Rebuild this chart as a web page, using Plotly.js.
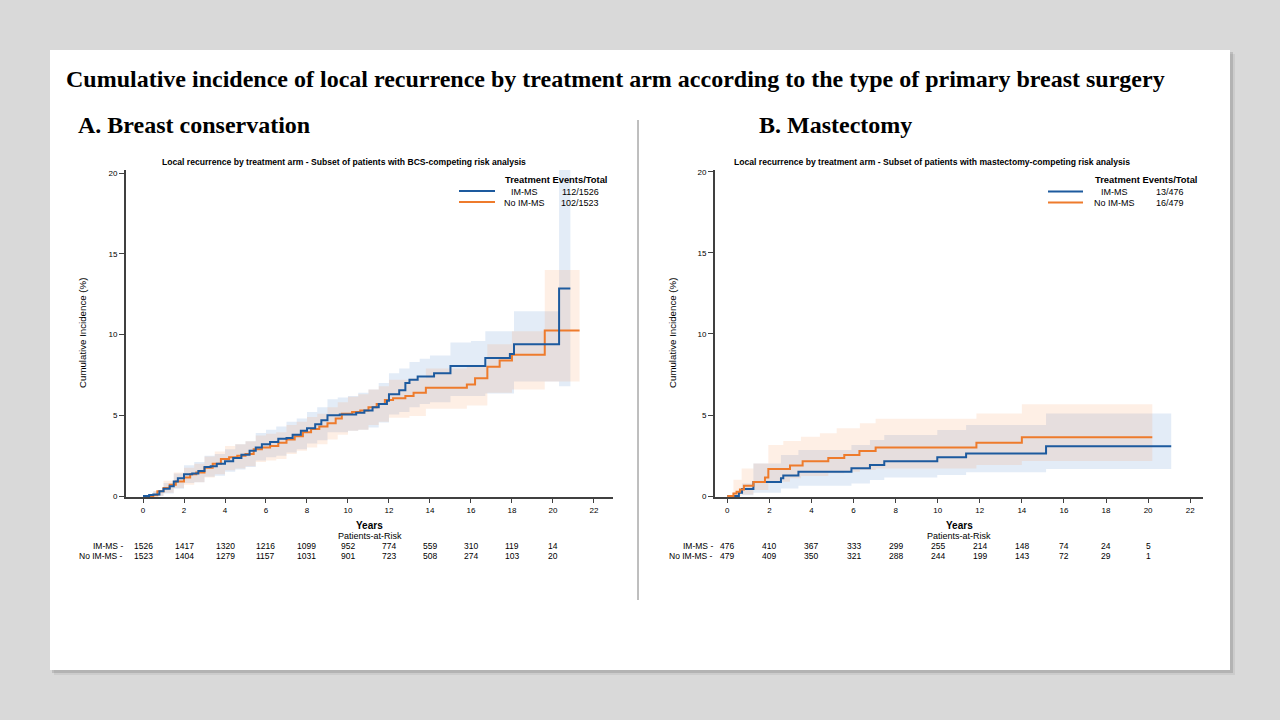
<!DOCTYPE html>
<html>
<head>
<meta charset="utf-8">
<script src="https://cdn.plot.ly/plotly-3.0.1.min.js"></script>
<style>html,body{margin:0;padding:0;background:#d9d9d9;}#chart{width:1280px;height:720px;}</style>
</head>
<body>
<div id="chart"></div>
<script>
// ---------- DATA ----------
// Panel A: Breast conservation (BCS)
const bcsIM_t = [0,0.3,0.5,0.8,1.0,1.3,1.5,1.7,2.0,2.4,2.7,3.0,3.3,3.6,4.0,4.4,4.8,5.2,5.5,5.8,6.2,6.6,7.0,7.3,7.7,8.0,8.4,8.7,9.0,9.6,10.4,10.8,11.2,11.5,11.9,12.0,12.5,12.8,13.0,13.4,14.2,15.0,16.7,17.9,18.1,20.3,20.85];
const bcsIM_v = [0,0.06,0.1,0.3,0.45,0.6,0.9,1.1,1.35,1.4,1.55,1.8,1.85,2.0,2.15,2.35,2.55,2.8,3.0,3.2,3.35,3.55,3.6,3.8,4.05,4.2,4.45,4.7,5.0,5.05,5.15,5.3,5.5,5.7,5.9,6.3,6.55,7.0,7.2,7.4,7.6,8.05,8.55,8.8,9.4,12.85,12.85];
const bcsNo_t = [0,0.5,0.7,1.0,1.3,1.6,2.0,2.3,2.6,3.0,3.4,3.8,4.2,4.6,5.0,5.4,5.8,6.2,6.6,7.0,7.4,7.8,8.2,8.6,9.0,9.4,9.7,10.2,10.6,11.0,11.4,11.8,12.2,12.8,13.2,13.8,15.8,16.2,16.8,17.4,18.0,19.6,21.3];
const bcsNo_v = [0,0.05,0.3,0.5,0.7,0.9,1.15,1.35,1.45,1.75,2.0,2.3,2.4,2.5,2.6,2.9,3.0,3.1,3.3,3.5,3.7,3.95,4.15,4.3,4.5,4.8,5.1,5.2,5.3,5.5,5.7,5.95,6.05,6.2,6.4,6.7,6.9,7.3,8.0,8.4,8.75,10.25,10.25];
const bcsIM_bt = [0,0.5,1,1.5,2,2.5,3,3.5,4,4.5,5,5.5,6,6.5,7,7.5,8,8.5,9,9.5,10,10.5,11,11.5,12,12.5,13,13.5,14,15,16,16.7,18.1,20.3,20.85];
const bcsIM_hi = [0,0.3,0.8,1.4,1.9,2.1,2.5,2.6,2.9,3.2,3.4,3.9,4.1,4.3,4.6,4.8,5.2,5.5,6.0,6.1,6.2,6.4,6.6,7.0,7.6,7.9,8.3,8.5,8.7,9.5,9.6,10.2,11.45,20.5,20.5];
const bcsIM_lo = [0,0,0.15,0.45,0.8,0.85,1.2,1.25,1.5,1.65,1.8,2.2,2.4,2.5,2.7,2.9,3.25,3.45,3.95,3.95,4.05,4.1,4.25,4.55,5.05,5.2,5.5,5.7,5.8,6.2,6.2,6.35,7.1,6.8,6.8];
const bcsNo_bt = [0,0.5,1,1.5,2,2.5,3,3.5,4,4.5,5,5.5,6,6.5,7,7.5,8,8.5,9,9.5,10,10.5,11,11.5,12,13,13.8,15.8,16.8,18.0,19.6,21.3];
const bcsNo_hi = [0,0.3,0.95,1.45,1.75,2.0,2.45,2.75,3.1,3.2,3.4,3.75,3.85,3.95,4.4,4.6,4.9,5.1,5.5,5.8,6.15,6.3,6.6,6.8,7.2,7.3,7.9,8.1,9.4,10.2,14.0,14.0];
const bcsNo_lo = [0,0,0.2,0.5,0.7,0.85,1.15,1.35,1.6,1.7,1.85,2.1,2.2,2.3,2.6,2.8,3.0,3.2,3.5,3.8,4.05,4.1,4.4,4.6,4.85,4.95,5.4,5.6,6.4,6.6,7.1,7.1];

// Panel B: Mastectomy
const mstIM_t = [0,0.55,0.7,1.24,2.55,2.66,3.38,5.9,6.78,7.46,9.98,11.35,15.15,21.1];
const mstIM_v = [0,0.2,0.43,0.86,1.09,1.27,1.5,1.71,1.91,2.14,2.39,2.63,3.07,3.07];
const mstIM_bt = [0,0.7,1.24,2.55,3.38,5.9,6.78,7.46,9.98,11.35,15.15,21.1];
const mstIM_hi = [0,0.78,2.0,2.53,2.84,3.15,3.46,3.77,4.07,4.38,5.1,5.1];
const mstIM_lo = [0,0.05,0.2,0.47,0.64,0.78,0.99,1.15,1.3,1.46,1.67,1.67];
const mstNo_t = [0,0.29,0.44,0.6,0.79,1.24,1.79,1.95,2.98,3.58,4.8,5.56,6.28,7.05,11.84,14.0,20.2];
const mstNo_v = [0,0.16,0.27,0.41,0.64,0.86,1.15,1.67,1.89,2.14,2.35,2.53,2.78,3.0,3.29,3.62,3.62];
const mstNo_bt = [0,0.29,0.68,1.24,1.95,2.66,2.98,3.5,4.4,4.8,5.2,5.56,6.3,7.05,11.84,14.0,20.2];
const mstNo_hi = [0,1.0,1.7,2.0,3.15,3.4,3.4,3.66,3.87,3.87,4.18,4.18,4.49,4.77,5.1,5.66,5.66];
const mstNo_lo = [0,0,0.1,0.37,0.88,0.88,1.09,1.23,1.23,1.4,1.4,1.5,1.6,1.7,1.91,2.16,2.16];

// Patients at risk
const riskTimes = [0,2,4,6,8,10,12,14,16,18,20];
const bcsRiskIM = [1526,1417,1320,1216,1099,952,774,559,310,119,14];
const bcsRiskNo = [1523,1404,1279,1157,1031,901,723,508,274,103,20];
const mstRiskIM = [476,410,367,333,299,255,214,148,74,24,5];
const mstRiskNo = [479,409,350,321,288,244,199,143,72,29,1];

// Legend
const armNames = ['IM-MS','No IM-MS'];
const bcsEvents = ['112/1526','102/1523'];
const mstEvents = ['13/476','16/479'];

// Text
const mainTitle = 'Cumulative incidence of local recurrence by treatment arm according to the type of primary breast surgery';
const panelA = 'A. Breast conservation';
const panelB = 'B. Mastectomy';
const subA = 'Local recurrence by treatment arm - Subset of patients with BCS-competing risk analysis';
const subB = 'Local recurrence by treatment arm - Subset of patients with mastectomy-competing risk analysis';
const yTitle = 'Cumulative Incidence (%)';
const xTitle = 'Years';
const riskTitle = 'Patients-at-Risk';
const xTicks = [0,2,4,6,8,10,12,14,16,18,20,22];
const yTicks = [0,5,10,15,20];

// ---------- STYLE ----------
const BLUE = '#1d5a9e', ORANGE = '#ee7b2c';
const BLUE_FILL = 'rgba(100,150,210,0.18)', ORANGE_FILL = 'rgba(245,150,80,0.15)';
const SANS = 'Liberation Sans, Arial, sans-serif';
const SERIF = 'Liberation Serif, Times New Roman, serif';
const PX = v => v/1280, PY = v => 1 - v/720;

function band(t, lo, hi, xa, ya, fill){
  return [
    {x:t, y:lo, xaxis:xa, yaxis:ya, mode:'lines', line:{width:0, shape:'hv'}, hoverinfo:'skip', showlegend:false},
    {x:t, y:hi, xaxis:xa, yaxis:ya, mode:'lines', line:{width:0, shape:'hv'}, fill:'tonexty', fillcolor:fill, hoverinfo:'skip', showlegend:false}
  ];
}
function curve(t, v, xa, ya, color){
  return {x:t, y:v, xaxis:xa, yaxis:ya, mode:'lines', line:{width:2, shape:'hv', color:color}, showlegend:false};
}

const traces = [].concat(
  band(bcsIM_bt, bcsIM_lo, bcsIM_hi, 'x', 'y', BLUE_FILL),
  band(bcsNo_bt, bcsNo_lo, bcsNo_hi, 'x', 'y', ORANGE_FILL),
  band(mstIM_bt, mstIM_lo, mstIM_hi, 'x2', 'y2', BLUE_FILL),
  band(mstNo_bt, mstNo_lo, mstNo_hi, 'x2', 'y2', ORANGE_FILL),
  [curve(bcsNo_t, bcsNo_v, 'x', 'y', ORANGE), curve(bcsIM_t, bcsIM_v, 'x', 'y', BLUE),
   curve(mstIM_t, mstIM_v, 'x2', 'y2', BLUE), curve(mstNo_t, mstNo_v, 'x2', 'y2', ORANGE)]
);

function xAxis(dom, range, anchor){
  return {domain:dom, range:range, anchor:anchor, tickvals:xTicks, ticks:'outside', ticklen:4, tickwidth:1,
    tickcolor:'#404040', showline:true, linecolor:'#404040', linewidth:2, showgrid:false, zeroline:false,
    tickfont:{family:SANS, size:8, color:'#000'}, fixedrange:true};
}
function yAxis(dom, range, anchor){
  return {domain:dom, range:range, anchor:anchor, tickvals:yTicks, ticks:'outside', ticklen:5, tickwidth:1,
    tickcolor:'#404040', showline:true, linecolor:'#404040', linewidth:2, showgrid:false, zeroline:false,
    tickfont:{family:SANS, size:8, color:'#000'}, fixedrange:true};
}

const ann = [];
function txt(x, y, text, opts){
  ann.push(Object.assign({x:x, y:y, xref:'paper', yref:'paper', text:text, showarrow:false,
    xanchor:'center', yanchor:'middle', font:{family:SANS, size:9, color:'#000'}}, opts||{}));
}
// titles
txt(PX(64), PY(79), '<b>'+mainTitle+'</b>', {xanchor:'left', font:{family:SERIF, size:24, color:'#000'}});
txt(PX(76), PY(125), '<b>'+panelA+'</b>', {xanchor:'left', font:{family:SERIF, size:24, color:'#000'}});
txt(PX(757), PY(125), '<b>'+panelB+'</b>', {xanchor:'left', font:{family:SERIF, size:24, color:'#000'}});

function panel(cx, subCx, sub, yTx, legL, events, riskIM, riskNo, xref, rowLabelX){
  txt(PX(subCx), PY(162), '<b>'+sub+'</b>', {font:{family:SANS, size:8.6, color:'#000'}});
  txt(PX(yTx), PY(333), yTitle, {textangle:-90, font:{family:SANS, size:9.7, color:'#000'}});
  txt(PX(legL), PY(179), '<b>Treatment Events/Total</b>', {xanchor:'left', font:{family:SANS, size:9.4, color:'#000'}});
  txt(PX(legL+21), PY(191.5), armNames[0], {font:{family:SANS, size:9, color:'#000'}});
  txt(PX(legL+21), PY(202.5), armNames[1], {font:{family:SANS, size:9, color:'#000'}});
  txt(PX(legL+77), PY(191.5), events[0], {font:{family:SANS, size:9, color:'#000'}});
  txt(PX(legL+77), PY(202.5), events[1], {font:{family:SANS, size:9, color:'#000'}});
  txt(PX(cx), PY(525), '<b>'+xTitle+'</b>', {font:{family:SANS, size:10, color:'#000'}});
  txt(PX(cx), PY(536), riskTitle, {font:{family:SANS, size:9, color:'#000'}});
  txt(PX(rowLabelX), PY(546), armNames[0]+' -', {xanchor:'right', font:{family:SANS, size:8.5, color:'#000'}});
  txt(PX(rowLabelX), PY(556), armNames[1]+' -', {xanchor:'right', font:{family:SANS, size:8.5, color:'#000'}});
  riskTimes.forEach((t,i)=>{
    ann.push({x:t, xref:xref, y:PY(546), yref:'paper', text:String(riskIM[i]), showarrow:false, xanchor:'center', yanchor:'middle', font:{family:SANS, size:8.5, color:'#000'}});
    ann.push({x:t, xref:xref, y:PY(556), yref:'paper', text:String(riskNo[i]), showarrow:false, xanchor:'center', yanchor:'middle', font:{family:SANS, size:8.5, color:'#000'}});
  });
}
panel(369.5, 343.5, subA, 82, 503, bcsEvents, bcsRiskIM, bcsRiskNo, 'x', 125);
panel(959, 932, subB, 672, 1093, mstEvents, mstRiskIM, mstRiskNo, 'x2', 715);

const shapes = [
  {type:'rect', xref:'paper', yref:'paper', x0:PX(54), x1:PX(1235), y0:PY(54), y1:PY(675), fillcolor:'rgba(0,0,0,0.06)', line:{width:0}, layer:'below'},
  {type:'rect', xref:'paper', yref:'paper', x0:PX(52), x1:PX(1233), y0:PY(52), y1:PY(673), fillcolor:'rgba(0,0,0,0.12)', line:{width:0}, layer:'below'},
  {type:'rect', xref:'paper', yref:'paper', x0:PX(50), x1:PX(1230), y0:PY(50), y1:PY(670), fillcolor:'#ffffff', line:{width:0}, layer:'below'},
  {type:'line', xref:'paper', yref:'paper', x0:PX(638), x1:PX(638), y0:PY(120), y1:PY(600), line:{color:'#7f7f7f', width:1}},
  // legend samples
  {type:'line', xref:'paper', yref:'paper', x0:PX(459), x1:PX(495), y0:PY(191), y1:PY(191), line:{color:BLUE, width:2}},
  {type:'line', xref:'paper', yref:'paper', x0:PX(459), x1:PX(495), y0:PY(202), y1:PY(202), line:{color:ORANGE, width:2}},
  {type:'line', xref:'paper', yref:'paper', x0:PX(1048), x1:PX(1083), y0:PY(191.5), y1:PY(191.5), line:{color:BLUE, width:2}},
  {type:'line', xref:'paper', yref:'paper', x0:PX(1048), x1:PX(1083), y0:PY(202.5), y1:PY(202.5), line:{color:ORANGE, width:2}}
];

const layout = {
  width:1280, height:720, margin:{l:0,r:0,t:0,b:0},
  paper_bgcolor:'#d9d9d9', plot_bgcolor:'rgba(0,0,0,0)',
  showlegend:false,
  xaxis: xAxis([PX(126), PX(613)], [-0.83, 22.93], 'y'),
  yaxis: yAxis([PY(497), PY(170)], [-0.06, 20.19], 'x'),
  xaxis2: xAxis([PX(715), PX(1203)], [-0.585, 22.61], 'y2'),
  yaxis2: yAxis([PY(497), PY(170)], [-0.06, 20.12], 'x2'),
  shapes: shapes,
  annotations: ann
};

Plotly.newPlot('chart', traces, layout, {staticPlot:true, displayModeBar:false});
</script>
</body>
</html>
